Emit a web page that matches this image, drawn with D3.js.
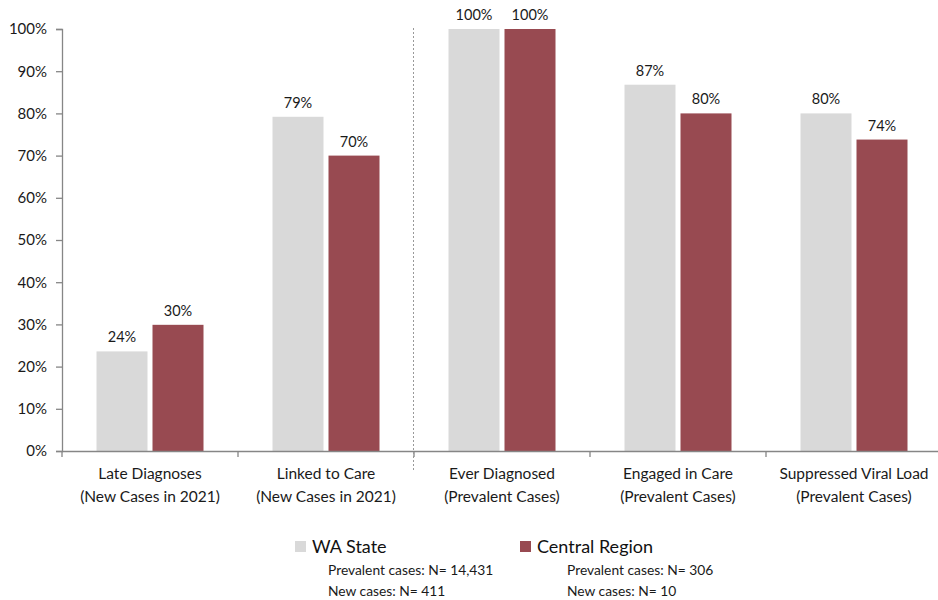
<!DOCTYPE html>
<html><head><meta charset="utf-8">
<script src="https://cdn.jsdelivr.net/npm/d3@7"></script>
<style>body{margin:0;background:#fff;}svg{display:block;font-family:Lato,"Open Sans",sans-serif;}</style>
</head><body>
<svg id="c" width="938" height="600"></svg>
<script>
const categories = [
  ["Late Diagnoses","(New Cases in 2021)"],
  ["Linked to Care","(New Cases in 2021)"],
  ["Ever Diagnosed","(Prevalent Cases)"],
  ["Engaged in Care","(Prevalent Cases)"],
  ["Suppressed Viral Load","(Prevalent Cases)"]
];
const waState = [23.6, 79.2, 100, 86.8, 80];
const waLabels = ["24%","79%","100%","87%","80%"];
const central = [29.9, 70, 100, 80, 73.8];
const centralLabels = ["30%","70%","100%","80%","74%"];
const yTicks = [0,10,20,30,40,50,60,70,80,90,100];
const seriesNames = ["WA State","Central Region"];
const seriesNotes = [["Prevalent cases: N= 14,431","New cases: N= 411"],["Prevalent cases: N= 306","New cases: N= 10"]];
const colors = ["#d9d9d9","#984a51"];

const svg = d3.select("#c");
const x0 = d3.scaleBand().domain(d3.range(categories.length)).range([62, 942]).paddingInner(0).paddingOuter(0);
const y = d3.scaleLinear().domain([0,100]).range([451, 29]);
const axisColor = "#868686";

// y axis
const ya = svg.append("g").attr("transform","translate(62,0)")
  .call(d3.axisLeft(y).tickValues(yTicks).tickFormat(d=>d+"%").tickSize(6).tickPadding(9));
ya.select(".domain").attr("stroke",axisColor).attr("stroke-width",1.3);
ya.selectAll(".tick line").attr("stroke",axisColor).attr("stroke-width",1.3);
ya.selectAll(".tick text").attr("font-size",15).attr("fill","#1a1a1a").attr("font-family","Lato,sans-serif");

// bars
const bw = 51, gap = 5;
const series = [waState, central];
const labels = [waLabels, centralLabels];
series.forEach((vals, si) => {
  const g = svg.append("g");
  vals.forEach((v, i) => {
    const cx = x0(i) + x0.bandwidth()/2;
    const bx = si === 0 ? cx - gap/2 - bw : cx + gap/2;
    g.append("rect").attr("x", bx).attr("y", y(v)).attr("width", bw).attr("height", y(0)-y(v))
      .attr("fill", colors[si]);
    g.append("text").attr("x", bx + bw/2).attr("y", y(v) - 9).attr("text-anchor","middle")
      .attr("font-size",14.5).attr("fill","#1a1a1a").text(labels[si][i]);
  });
});

// x axis
svg.append("line").attr("x1",62).attr("x2",942).attr("y1",451.5).attr("y2",451.5).attr("stroke",axisColor).attr("stroke-width",1.3);
d3.range(categories.length+1).forEach(i => {
  const xx = i < categories.length ? x0(i) : x0(categories.length-1) + x0.bandwidth();
  svg.append("line").attr("x1",xx).attr("x2",xx).attr("y1",451).attr("y2",457).attr("stroke",axisColor).attr("stroke-width",1.3);
});
categories.forEach((c, i) => {
  const cx = x0(i) + x0.bandwidth()/2;
  c.forEach((t, k) => {
    svg.append("text").attr("x", cx).attr("y", 479 + k*23).attr("text-anchor","middle")
      .attr("font-size",15.5).attr("fill","#1a1a1a").text(t);
  });
});

// divider
const dx = Math.round(x0(2) - 1) + 0.5;
svg.append("line").attr("x1",dx).attr("x2",dx).attr("y1",28).attr("y2",470)
  .attr("stroke","#999").attr("stroke-width",1).attr("stroke-dasharray","2,2");

// legend
const legX = [295, 520];
seriesNames.forEach((n, i) => {
  svg.append("rect").attr("x", legX[i]).attr("y", 541).attr("width", 11).attr("height", 11).attr("fill", colors[i]);
  svg.append("text").attr("x", legX[i] + 17).attr("y", 553).attr("font-size",18).attr("fill","#111").text(n);
  seriesNotes[i].forEach((t, k) => {
    svg.append("text").attr("x", legX[i] + 33 + (i===1?14:0)).attr("y", 575 + k*21).attr("font-size",13.8).attr("fill","#1a1a1a").text(t);
  });
});
</script>
</body></html>
